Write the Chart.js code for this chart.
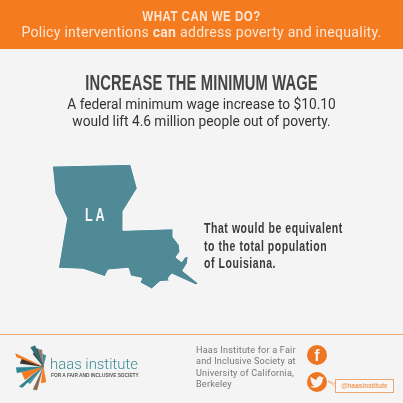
<!DOCTYPE html>
<html>
<head>
<meta charset="utf-8">
<title>Increase the minimum wage</title>
<style>
html, body { margin: 0; padding: 0; background: #f4f4f4; }
#page { position: relative; width: 403px; height: 403px; overflow: hidden; }
#page canvas { position: absolute; left: 0; top: 0; }
.txt { position: absolute; white-space: nowrap; font-family: Roboto, sans-serif; transform-origin: left top; }
.c { left: 0; width: 403px; text-align: center; transform-origin: center top; }
#band { position: absolute; left: 0; top: 0; width: 403px; height: 49px; background: #f47b20; }
#rule { position: absolute; left: 0; top: 334px; width: 403px; height: 1px; background: #eda774; }
#head1 { top: 7px; color: #fbe6d3; font: bold 15px "Liberation Sans", sans-serif; letter-spacing: 0.6px; transform: scaleX(0.77); }
#head2 { top: 24px; color: #fbe6d3; font-size: 14.1px; letter-spacing: 0.25px; }
#title { top: 70px; color: #444; font: bold 22px "Liberation Sans", sans-serif; letter-spacing: 0.2px; transform: scaleX(0.67); }
#sub { top: 97px; color: #333; font-size: 14.5px; line-height: 16.5px; transform: scaleX(0.947); }
#la { left: 85px; top: 205px; color: #f4f4f4; font: bold 18px "Liberation Sans", sans-serif; letter-spacing: 4px; transform: scaleX(0.7); }
#equiv { left: 204px; top: 219px; color: #3a3a3a; font: bold 15px "Liberation Sans", sans-serif; line-height: 17.7px; letter-spacing: 0.8px; transform: scaleX(0.7); }
#brand { left: 50px; top: 355px; color: #3a8a96; font-size: 15.5px; font-weight: 300; transform: scaleX(0.96); }
#tag { left: 51px; top: 372px; color: #555; font: bold 6px "Liberation Sans", sans-serif; transform: scaleX(0.8); }
#addr { left: 196px; top: 345px; color: #777; font-size: 9.1px; line-height: 11.4px; letter-spacing: 0.2px; }
#f { left: 307px; top: 345px; width: 20px; height: 20px; border-radius: 50%; background: #ee7623; color: #f4f4f4; text-align: center; font: bold 16px/21px "Liberation Sans", sans-serif; }
#tw { position: absolute; left: 307px; top: 372px; width: 20px; height: 20px; border-radius: 50%; background: #ee7623; }
#tw svg { position: absolute; left: 3px; top: 3px; }
#pointer { position: absolute; left: 328px; top: 380px; }
#handle { left: 335px; top: 379px; width: 59px; height: 14px; border: 1px solid #eda774; box-sizing: border-box; color: #f0a060; font: bold 6.5px/12px "Liberation Sans", sans-serif; text-align: center; background: #f8f8f8; }
</style>
</head>
<body>
<div id="page">
  <div id="band"></div>
  <div id="rule"></div>
  <canvas id="myChart" width="403" height="403"></canvas>
  <div class="txt c" id="head1">WHAT CAN WE DO?</div>
  <div class="txt c" id="head2">Policy interventions <b>can</b> address poverty and inequality.</div>
  <div class="txt c" id="title">INCREASE THE MINIMUM WAGE</div>
  <div class="txt c" id="sub">A federal minimum wage increase to $10.10<br>would lift 4.6 million people out of poverty.</div>
  <div class="txt" id="la">LA</div>
  <div class="txt" id="equiv">That would be equivalent<br>to the total population<br>of Louisiana.</div>
  <div class="txt" id="brand">haas institute</div>
  <div class="txt" id="tag">FOR A FAIR AND INCLUSIVE SOCIETY</div>
  <div class="txt" id="addr">Haas Institute for a Fair<br>and Inclusive Society at<br>University of California,<br>Berkeley</div>
  <div class="txt" id="f">f</div>
  <div id="tw"><svg width="14" height="14" viewBox="0 0 24 24"><path fill="#f4f4f4" d="M23.95 4.57a10 10 0 01-2.82.77 4.96 4.96 0 002.16-2.72c-.95.55-2 .95-3.12 1.18a4.92 4.92 0 00-8.38 4.48C7.69 8.09 4.07 6.13 1.64 3.16a4.93 4.93 0 001.52 6.57 4.9 4.9 0 01-2.23-.62v.06a4.92 4.92 0 003.95 4.83 4.9 4.9 0 01-2.21.08 4.93 4.93 0 004.6 3.42A9.87 9.87 0 010 19.54a13.94 13.94 0 007.55 2.21c9.05 0 14-7.5 14-13.98 0-.21 0-.43-.02-.64a9.94 9.94 0 002.46-2.55z"/></svg></div>
  <svg id="pointer" width="8" height="8"><path d="M0 1 L8 4 L8 7 Z" fill="#f8f8f8" stroke="#eda774" stroke-width="0.8"/></svg>
  <div class="txt" id="handle">@haasinstitute</div>
</div>
<script src="https://cdn.jsdelivr.net/npm/chart.js@4"></script>
<script>
'use strict';

// outline of Louisiana
let stateX = [52.3, 130.7, 137.3, 123.3, 123.3, 173.3, 173.3, 179.3, 180, 176, 181.7, 185, 188.3, 187.3, 182.7, 198.3, 196, 171.7, 168.3, 169.3, 160, 151.7, 140, 141.7, 130.7, 128.3, 108.3, 105, 83.3, 58.3, 66.7, 55, 52.3];
let stateY = [166, 164.3, 188.3, 211, 230.3, 228.7, 237.3, 245, 251.7, 257.3, 261.7, 256.7, 256.7, 263.3, 270.7, 283.3, 285, 274, 278.3, 281, 281.7, 289, 282.7, 278.3, 276, 268.3, 270, 276.7, 269.3, 268.3, 218.3, 193.3, 166];

// logo burst: every ray runs from the hub out to two outer corners
let hubX = 43.3;
let hubY = 366.7;
let rayX1 = [30.5, 33, 37.5, 42.7, 15.5, 22, 16, 21.5, 19, 26, 33, 41];
let rayY1 = [347.5, 354, 349, 354, 353.5, 358.5, 367.5, 372, 386.5, 381, 389.5, 383];
let rayX2 = [35, 37, 42, 46, 16.5, 20, 17, 25, 22.5, 30, 37, 46];
let rayY2 = [345.5, 348, 350, 355.5, 357, 363.5, 373, 380, 387.5, 384, 390, 382];
let rayColor = ['#2f6f7c', '#3b3530', '#8a7d72', '#3f8f9c', '#f47b20', '#3b3530', '#2f8793', '#f47b20', '#2f7f8c', '#4f9aa5', '#8a6a50', '#f47b20'];

function toPoints(xs, ys) {
  let points = [];
  for (let i = 0; i < xs.length; i++) {
    points.push({ x: xs[i], y: ys[i] });
  }
  return points;
}

function buildShape(label, points, color, border, borderWidth) {
  return {
    label: label,
    data: points,
    showLine: true,
    fill: 'shape',
    tension: 0,
    backgroundColor: color,
    borderColor: border,
    borderWidth: borderWidth,
    pointRadius: 0,
  };
}

let datasets = [buildShape('Louisiana', toPoints(stateX, stateY), '#4f8a96', '#fbfbfb', 1)];

for (let i = 0; i < rayX1.length; i++) {
  let rayPoints = toPoints([hubX, rayX1[i], rayX2[i], hubX], [hubY, rayY1[i], rayY2[i], hubY]);
  datasets.push(buildShape('ray ' + i, rayPoints, rayColor[i], rayColor[i], 0.3));
}

const config = {
  type: 'scatter',
  data: { datasets: datasets },
  options: {
    responsive: false,
    animation: false,
    layout: { padding: 0 },
    plugins: { legend: { display: false }, tooltip: { enabled: false } },
    scales: {
      x: { type: 'linear', min: 0, max: 403, display: false },
      y: { type: 'linear', min: 0, max: 403, reverse: true, display: false },
    },
  },
};

new Chart(document.getElementById('myChart').getContext('2d'), config);
</script>
</body>
</html>
